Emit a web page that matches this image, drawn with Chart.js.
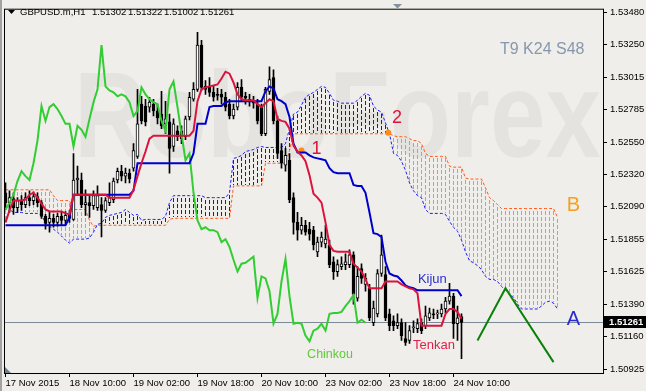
<!DOCTYPE html>
<html>
<head>
<meta charset="utf-8">
<script src="https://cdn.jsdelivr.net/npm/chart.js@4.4.0/dist/chart.umd.min.js"></script>
<style>
html,body{margin:0;padding:0;background:#efeeea;}
#wrap{width:646px;height:391px;position:relative;}
</style>
</head>
<body>
<div id="wrap"><canvas id="c" width="646" height="391"></canvas></div>
<script>
// ---------- DATA ----------
const timeLabels = ["17 Nov 2015","18 Nov 10:00","19 Nov 02:00","19 Nov 18:00","20 Nov 10:00","23 Nov 02:00","23 Nov 18:00","24 Nov 10:00"];
const timeLabelBars = [0,16,32,48,64,80,96,112];
const priceTicks = [1.53480,1.53250,1.53015,1.52785,1.52550,1.52320,1.52090,1.51855,1.51625,1.51390,1.51160,1.50925];
const headerValues = ["1.51302","1.51322","1.51002","1.51261"];

const openP = [
1.52189,1.52118,1.52147,1.52083,1.52133,1.52104,1.52154,1.52133,1.52161,1.52118,
1.52020,1.51977,1.52006,1.51977,1.52020,1.51991,1.52027,1.51998,1.52280,1.52280,
1.52104,1.52118,1.52097,1.52083,1.52104,1.52062,1.52118,1.52140,1.52280,1.52343,
1.52308,1.52329,1.52365,1.52449,1.52823,1.52809,1.52802,1.52823,1.52774,1.52752,
1.52682,1.52696,1.52520,1.52632,1.52632,1.52590,1.52731,1.52858,1.52929,1.53245,
1.52950,1.52943,1.52907,1.52893,1.52893,1.52872,1.52823,1.52738,1.52802,1.52943,
1.52879,1.52858,1.52844,1.52823,1.52802,1.52611,1.52914,1.53013,1.52703,1.52491,
1.52386,1.52421,1.52154,1.51977,1.51921,1.51956,1.51928,1.51921,1.51766,1.51836,
1.51822,1.51815,1.51695,1.51625,1.51660,1.51674,1.51674,1.51745,1.51435,1.51646,
1.51533,1.51505,1.51259,1.51322,1.51611,1.51604,1.51322,1.51273,1.51238,1.51259,
1.51146,1.51132,1.51223,1.51216,1.51259,1.51238,1.51294,1.51322,1.51322,1.51322,
1.51357,1.51413,1.51449,1.51252,1.51302];
const highP = [
1.52259,1.52203,1.52189,1.52154,1.52168,1.52189,1.52203,1.52196,1.52189,1.52133,
1.52034,1.52048,1.52034,1.52041,1.52048,1.52055,1.52062,1.52470,1.52379,1.52329,
1.52210,1.52168,1.52203,1.52238,1.52154,1.52154,1.52259,1.52294,1.52365,1.52386,
1.52365,1.52358,1.52541,1.52929,1.52879,1.52858,1.52872,1.52858,1.52823,1.52914,
1.52844,1.52752,1.52717,1.52668,1.52668,1.52738,1.52907,1.52978,1.53337,1.53280,
1.52992,1.53013,1.52950,1.52936,1.52929,1.52907,1.52858,1.52823,1.52978,1.52999,
1.52907,1.52893,1.52879,1.52858,1.52823,1.52943,1.53090,1.53069,1.52738,1.52541,
1.52506,1.52470,1.52189,1.52048,1.52013,1.51991,1.51977,1.51949,1.51872,1.51907,
1.51956,1.51850,1.51731,1.51709,1.51731,1.51752,1.51780,1.51766,1.51660,1.51681,
1.51611,1.51533,1.51413,1.51639,1.51886,1.51660,1.51357,1.51308,1.51322,1.51287,
1.51259,1.51238,1.51273,1.51287,1.51287,1.51378,1.51364,1.51357,1.51350,1.51392,
1.51441,1.51540,1.51470,1.51378,1.51322];
const lowP = [
1.52069,1.52048,1.52034,1.52048,1.52062,1.52083,1.52097,1.52104,1.52090,1.52006,
1.51928,1.51907,1.51942,1.51949,1.51956,1.51963,1.51977,1.51991,1.52168,1.52083,
1.52027,1.52013,1.52069,1.52062,1.51872,1.52048,1.52097,1.52118,1.52259,1.52273,
1.52259,1.52259,1.52343,1.52435,1.52682,1.52668,1.52766,1.52738,1.52682,1.52647,
1.52611,1.52329,1.52484,1.52562,1.52541,1.52569,1.52710,1.52844,1.52914,1.52921,
1.52893,1.52879,1.52844,1.52851,1.52823,1.52774,1.52717,1.52717,1.52781,1.52844,
1.52823,1.52809,1.52795,1.52682,1.52597,1.52597,1.52893,1.52682,1.52435,1.52365,
1.52343,1.52118,1.51893,1.51850,1.51893,1.51886,1.51850,1.51780,1.51731,1.51801,
1.51794,1.51653,1.51568,1.51590,1.51639,1.51639,1.51653,1.51392,1.51413,1.51540,
1.51484,1.51273,1.51238,1.51301,1.51590,1.51273,1.51202,1.51202,1.51216,1.51132,
1.51097,1.51111,1.51188,1.51188,1.51181,1.51216,1.51273,1.51287,1.51287,1.51301,
1.51329,1.51392,1.51146,1.51132,1.51002];
const closeP = [
1.52118,1.52154,1.52083,1.52133,1.52104,1.52154,1.52133,1.52161,1.52118,1.52020,
1.51970,1.52006,1.51977,1.52020,1.51991,1.52027,1.52006,1.52280,1.52294,1.52104,
1.52118,1.52097,1.52168,1.52168,1.52062,1.52133,1.52154,1.52273,1.52343,1.52308,
1.52329,1.52287,1.52491,1.52682,1.52703,1.52696,1.52837,1.52774,1.52724,1.52668,
1.52717,1.52506,1.52682,1.52590,1.52576,1.52717,1.52872,1.52929,1.53245,1.52943,
1.52929,1.52907,1.52872,1.52886,1.52872,1.52802,1.52738,1.52788,1.52943,1.52872,
1.52865,1.52844,1.52830,1.52703,1.52611,1.52929,1.52999,1.52703,1.52470,1.52400,
1.52456,1.52140,1.51977,1.51921,1.51956,1.51907,1.51893,1.51815,1.51836,1.51872,
1.51857,1.51674,1.51625,1.51674,1.51681,1.51695,1.51745,1.51463,1.51590,1.51576,
1.51576,1.51294,1.51364,1.51611,1.51745,1.51294,1.51238,1.51238,1.51259,1.51167,
1.51118,1.51202,1.51230,1.51252,1.51202,1.51308,1.51329,1.51315,1.51329,1.51357,
1.51413,1.51449,1.51252,1.51294,1.51261];

const tenkan = [
1.51977,1.52062,1.52133,1.52133,1.52133,1.52140,1.52175,1.52189,1.52154,1.52111,
1.52069,1.52055,1.52055,1.52055,1.52055,1.52041,1.52034,1.52175,1.52175,1.52175,
1.52175,1.52175,1.52175,1.52175,1.52175,1.52175,1.52154,1.52154,1.52154,1.52154,
1.52154,1.52154,1.52210,1.52308,1.52400,1.52484,1.52576,1.52597,1.52597,1.52597,
1.52597,1.52597,1.52597,1.52597,1.52597,1.52597,1.52597,1.52632,1.52844,1.52929,
1.52943,1.52950,1.52957,1.52964,1.53006,1.53055,1.53041,1.52978,1.52893,1.52858,
1.52851,1.52851,1.52851,1.52823,1.52802,1.52830,1.52858,1.52844,1.52717,1.52703,
1.52696,1.52647,1.52527,1.52484,1.52456,1.52414,1.52315,1.52182,1.52154,1.52118,
1.51977,1.51815,1.51773,1.51766,1.51766,1.51766,1.51766,1.51681,1.51653,1.51625,
1.51568,1.51505,1.51505,1.51505,1.51505,1.51554,1.51554,1.51554,1.51554,1.51533,
1.51519,1.51505,1.51498,1.51470,1.51238,1.51238,1.51238,1.51238,1.51238,1.51238,
1.51322,1.51357,1.51357,1.51336,1.51287];
const kijun = [
1.51956,1.51956,1.51956,1.51956,1.51956,1.51956,1.51956,1.51956,1.51956,1.51956,
1.51956,1.51956,1.51956,1.51956,1.51956,1.51956,1.52013,1.52175,1.52175,1.52175,
1.52175,1.52175,1.52175,1.52175,1.52175,1.52175,1.52175,1.52175,1.52175,1.52175,
1.52175,1.52175,1.52203,1.52400,1.52400,1.52400,1.52400,1.52400,1.52400,1.52400,
1.52400,1.52400,1.52400,1.52400,1.52400,1.52400,1.52400,1.52470,1.52682,1.52682,
1.52682,1.52802,1.52809,1.52809,1.52809,1.52837,1.52844,1.52844,1.52844,1.52844,
1.52844,1.52844,1.52844,1.52844,1.52844,1.52914,1.52950,1.52936,1.52858,1.52844,
1.52823,1.52731,1.52541,1.52477,1.52477,1.52477,1.52456,1.52442,1.52435,1.52428,
1.52421,1.52365,1.52336,1.52329,1.52329,1.52329,1.52329,1.52245,1.52238,1.52238,
1.52189,1.52048,1.51900,1.51893,1.51872,1.51695,1.51611,1.51597,1.51590,1.51561,
1.51526,1.51512,1.51505,1.51491,1.51491,1.51491,1.51491,1.51491,1.51491,1.51491,
1.51491,1.51491,1.51491,1.51491,1.51449];
const chinkou = [
1.52069,1.52118,1.52175,1.52273,1.52343,1.52308,1.52280,1.52400,1.52562,1.52809,
1.52703,1.52802,1.52823,1.52788,1.52738,1.52682,1.52682,1.52520,1.52668,1.52639,
1.52590,1.52717,1.52837,1.52929,1.53245,1.52950,1.52921,1.52907,1.52879,1.52893,
1.52879,1.52837,1.52738,1.52774,1.52943,1.52893,1.52858,1.52837,1.52823,1.52703,
1.52632,1.52929,1.52985,1.52802,1.52611,1.52421,1.52470,1.52189,1.51991,1.51928,
1.51942,1.51921,1.51921,1.51907,1.51836,1.51857,1.51801,1.51709,1.51625,1.51681,
1.51688,1.51709,1.51731,1.51435,1.51590,1.51576,1.51484,1.51252,1.51322,1.51554,
1.51716,1.51449,1.51252,1.51259,1.51252,1.51167,1.51125,1.51202,1.51216,1.51252,
1.51202,1.51322,1.51329,1.51329,1.51336,1.51378,1.51413,1.51456,1.51259,1.51280,
1.51259];
const senkouA = [
1.51977,1.52069,1.52048,1.52048,1.52048,1.52041,1.52041,1.52041,1.52041,1.52027,
1.51977,1.51949,1.51928,1.51907,1.51879,1.51850,1.51829,1.51857,1.51857,1.51857,
1.51857,1.51865,1.51907,1.51963,1.51970,1.52013,1.52027,1.52034,1.52041,1.52048,
1.52069,1.52048,1.52027,1.52034,1.51991,1.51998,1.51998,1.51998,1.51998,1.51998,
1.52020,1.52118,1.52168,1.52168,1.52168,1.52168,1.52168,1.52168,1.52168,1.52168,
1.52154,1.52154,1.52154,1.52154,1.52154,1.52154,1.52189,1.52435,1.52442,1.52456,
1.52484,1.52491,1.52498,1.52513,1.52520,1.52513,1.52513,1.52513,1.52513,1.52513,
1.52541,1.52647,1.52752,1.52766,1.52816,1.52872,1.52893,1.52907,1.52929,1.52950,
1.52943,1.52900,1.52851,1.52844,1.52830,1.52830,1.52830,1.52830,1.52851,1.52879,
1.52900,1.52886,1.52809,1.52781,1.52766,1.52689,1.52611,1.52470,1.52456,1.52414,
1.52350,1.52259,1.52203,1.52168,1.52154,1.52069,1.52041,1.52041,1.52041,1.52041,
1.52034,1.51984,1.51942,1.51914,1.51850,1.51766,1.51702,1.51688,1.51667,1.51639,
1.51590,1.51568,1.51568,1.51554,1.51519,1.51491,1.51470,1.51441,1.51392,1.51357,
1.51357,1.51357,1.51357,1.51357,1.51378,1.51406,1.51413,1.51399,1.51357];
const senkouB = [
1.52210,1.52210,1.52210,1.52210,1.52210,1.52210,1.52210,1.52210,1.52210,1.52210,
1.52210,1.52210,1.52168,1.52133,1.52133,1.52133,1.52133,1.52069,1.52069,1.52069,
1.52069,1.51991,1.51949,1.51956,1.51956,1.51956,1.51956,1.51956,1.51956,1.51956,
1.51956,1.51956,1.51956,1.51956,1.51956,1.51956,1.51956,1.51956,1.51956,1.51956,
1.51956,1.51998,1.52006,1.52006,1.52006,1.52006,1.52006,1.52006,1.52006,1.52006,
1.52006,1.52006,1.52006,1.52006,1.52006,1.52006,1.52006,1.52238,1.52238,1.52238,
1.52238,1.52238,1.52238,1.52238,1.52238,1.52400,1.52400,1.52400,1.52400,1.52400,
1.52400,1.52491,1.52611,1.52611,1.52611,1.52611,1.52611,1.52611,1.52611,1.52611,
1.52611,1.52611,1.52611,1.52611,1.52611,1.52611,1.52611,1.52611,1.52611,1.52611,
1.52611,1.52611,1.52611,1.52611,1.52611,1.52611,1.52611,1.52597,1.52590,1.52590,
1.52590,1.52576,1.52562,1.52562,1.52541,1.52470,1.52449,1.52449,1.52449,1.52449,
1.52449,1.52379,1.52372,1.52372,1.52372,1.52294,1.52287,1.52287,1.52287,1.52287,
1.52224,1.52154,1.52133,1.52104,1.52076,1.52076,1.52076,1.52076,1.52076,1.52076,
1.52076,1.52076,1.52076,1.52076,1.52076,1.52076,1.52076,1.52076,1.52013];

// forecast zig-zag (bar index, price) and signal markers
const zigzagBars = [118,125,137];
const zigzagPrices = [1.51132,1.51505,1.50977];
const markerBars = [74,95.7];
const markerPrices = [1.52491,1.52618];

// ---------- STYLE ----------
const BG = '#efeeea';
const FONT = "'Liberation Sans', Arial, sans-serif";
const C_TENKAN = '#dc143c', C_KIJUN = '#0000cd', C_CHINKOU = '#32cd32';
const C_SPANA = '#1e1ef0', C_SPANB = '#ff5a1e';
const C_HATCH_A = '#1010f0', C_HATCH_B = '#ff8a55';

const xy = (xs, ys) => ys.map((v, i) => ({x: xs ? xs[i] : i, y: v}));

const ichiPlugin = {
  id: 'ichi',
  beforeDraw(chart) {
    const ctx = chart.ctx;
    ctx.save();
    ctx.fillStyle = BG;
    ctx.fillRect(0, 0, chart.width, chart.height);
    ctx.fillStyle = '#a2a2a2';
    ctx.fillRect(0, 0, 2, chart.height);
    ctx.restore();
  },
  beforeDatasetsDraw(chart) {
    const {ctx, chartArea: a, scales: {x, y}} = chart;
    ctx.save();
    ctx.beginPath();
    ctx.rect(a.left, a.top, a.right - a.left, a.bottom - a.top);
    ctx.clip();
    // watermark
    ctx.save();
    ctx.fillStyle = 'rgba(0,0,0,0.042)';
    ctx.font = 'bold 122px ' + FONT;
    ctx.textBaseline = 'alphabetic';
    const wm = 'RoboForex';
    const w = ctx.measureText(wm).width;
    ctx.translate(74, 157);
    ctx.scale(527 / w, 1);
    ctx.fillText(wm, 0, 0);
    ctx.restore();
    // cloud hatch: crisp vertical dotted strokes, one per bar
    for (let i = 0; i < senkouA.length; i++) {
      const px = Math.floor(x.getPixelForValue(i));
      const ya = Math.round(y.getPixelForValue(senkouA[i]));
      const yb = Math.round(y.getPixelForValue(senkouB[i]));
      ctx.fillStyle = senkouA[i] >= senkouB[i] ? C_HATCH_A : C_HATCH_B;
      const top = Math.min(ya, yb) + 2, bot = Math.max(ya, yb) - 1;
      for (let yy = top; yy < bot; yy += 6) {
        ctx.fillRect(px, yy, 1, Math.min(4, bot - yy));
      }
    }
    // current price line
    const yp = Math.round(y.getPixelForValue(closeP[closeP.length - 1])) + 0.5;
    ctx.strokeStyle = '#7b8a99';
    ctx.lineWidth = 1;
    ctx.beginPath();
    ctx.moveTo(a.left, yp);
    ctx.lineTo(a.right, yp);
    ctx.stroke();
    ctx.restore();
  },
  afterDraw(chart) {
    const {ctx, chartArea: a, scales: {x, y}} = chart;
    ctx.save();
    // frame
    ctx.strokeStyle = '#000';
    ctx.lineWidth = 1;
    ctx.strokeRect(a.left + 0.5, a.top + 0.5, a.right - a.left, a.bottom - a.top);
    // title
    ctx.fillStyle = '#000';
    ctx.beginPath();
    ctx.moveTo(8, 10); ctx.lineTo(15, 10); ctx.lineTo(11.5, 14); ctx.closePath(); ctx.fill();
    ctx.font = '9.5px ' + FONT;
    ctx.textBaseline = 'middle';
    ctx.textAlign = 'left';
    ctx.fillText('GBPUSD.m,H1', 20, 12.5);
    headerValues.forEach((s, k) => ctx.fillText(s, 92 + 36 * k, 12.5));
    // settings label
    ctx.fillStyle = '#8797ad';
    ctx.font = '16px ' + FONT;
    ctx.fillText('T9 K24 S48', 500, 49.5);
    // shift marker triangles
    ctx.fillStyle = '#8391a0';
    ctx.beginPath(); ctx.moveTo(393, 4); ctx.lineTo(402, 4); ctx.lineTo(397.5, 8.5); ctx.closePath(); ctx.fill();
    ctx.fillStyle = '#6f7f90';
    ctx.beginPath(); ctx.moveTo(5, 367); ctx.lineTo(5, 373); ctx.lineTo(11, 373); ctx.closePath(); ctx.fill();
    // annotations anchored to bars/prices
    const txt = (s, bar, price, color, size, align) => {
      ctx.fillStyle = color;
      ctx.font = size + 'px ' + FONT;
      ctx.textAlign = align;
      ctx.textBaseline = 'middle';
      ctx.fillText(s, x.getPixelForValue(bar), y.getPixelForValue(price));
    };
    txt('1', 77.75, 1.52505, '#dc143c', 18, 'center');
    txt('2', 97.9, 1.52727, '#dc143c', 18, 'center');
    txt('B', 142, 1.52097, '#f5a01e', 20, 'center');
    txt('A', 142, 1.51280, '#2a2ad2', 20, 'center');
    txt('Kijun', 103.1, 1.51572, '#2e2ecc', 13, 'left');
    txt('Tenkan', 101.9, 1.51096, '#e0204a', 13, 'left');
    txt('Chinkou', 75.4, 1.51033, '#5ccc3a', 12.5, 'left');
    // current price tag
    const last = closeP[closeP.length - 1];
    const yp = Math.round(y.getPixelForValue(last));
    ctx.fillStyle = '#000';
    ctx.fillRect(a.right + 1, yp - 6, chart.width - a.right - 1, 12);
    ctx.fillStyle = '#fff';
    ctx.font = 'bold 9.5px ' + FONT;
    ctx.textAlign = 'left';
    ctx.fillText(last.toFixed(5), a.right + 6, yp + 0.5);
    ctx.restore();
  }
};

const tickFont = {family: FONT, size: 9.5};

new Chart(document.getElementById('c'), {
  type: 'bar',
  data: {
    datasets: [
      {type: 'line', label: 'Tenkan', data: xy(null, tenkan), borderColor: C_TENKAN, borderWidth: 2, pointRadius: 0, tension: 0},
      {type: 'line', label: 'Kijun', data: xy(null, kijun), borderColor: C_KIJUN, borderWidth: 2, pointRadius: 0, tension: 0},
      {type: 'line', label: 'Chinkou', data: xy(null, chinkou), borderColor: C_CHINKOU, borderWidth: 2, pointRadius: 0, tension: 0},
      {type: 'line', label: 'Forecast', data: xy(zigzagBars, zigzagPrices), borderColor: '#0a820a', borderWidth: 2, pointRadius: 0, tension: 0},
      {type: 'line', label: 'Signals', data: xy(markerBars, markerPrices), showLine: false, pointRadius: 3, pointStyle: 'circle', pointBackgroundColor: '#ff8c1a', pointBorderWidth: 0},
      {type: 'bar', label: 'Bodies', data: openP.map((o, i) => ({x: i, y: [o, closeP[i]]})),
        backgroundColor: openP.map((o, i) => closeP[i] >= o ? '#ffffff' : '#000000'),
        borderColor: '#000', borderWidth: 1, borderSkipped: false, barThickness: 3, grouped: false, minBarLength: 1},
      {type: 'bar', label: 'Wicks', data: lowP.map((l, i) => ({x: i, y: [l, highP[i]]})),
        backgroundColor: '#000', borderWidth: 0, barThickness: 1, grouped: false},
      {type: 'line', label: 'Senkou A', data: xy(null, senkouA), borderColor: C_SPANA, borderWidth: 1, borderDash: [3, 2], pointRadius: 0, tension: 0},
      {type: 'line', label: 'Senkou B', data: xy(null, senkouB), borderColor: C_SPANB, borderWidth: 1, borderDash: [3, 2], pointRadius: 0, tension: 0}
    ]
  },
  options: {
    responsive: false,
    animation: false,
    devicePixelRatio: 1,
    layout: {padding: {left: 4, top: 3, right: 0, bottom: 0}},
    plugins: {legend: {display: false}, tooltip: {enabled: false}},
    scales: {
      x: {
        type: 'linear', min: -0.375, max: 149.375, offset: false,
        grid: {display: true, drawOnChartArea: false, drawTicks: true, tickLength: 4, color: '#000', offset: false},
        border: {display: false},
        afterBuildTicks: s => { s.ticks = timeLabelBars.map(v => ({value: v})); },
        afterFit: s => { s.height = 18; },
        ticks: {autoSkip: false, maxRotation: 0, minRotation: 0, align: 'start', padding: 1, color: '#000', font: tickFont,
          callback: (v, i) => timeLabels[i]}
      },
      y: {
        type: 'linear', position: 'right', min: 1.50899, max: 1.53506,
        grid: {display: true, drawOnChartArea: false, drawTicks: true, tickLength: 4, color: '#000'},
        border: {display: false},
        afterBuildTicks: s => { s.ticks = priceTicks.map(v => ({value: v})); },
        afterFit: s => { s.width = 43; },
        ticks: {autoSkip: false, padding: 3, color: '#000', font: tickFont, callback: v => v.toFixed(5)}
      }
    }
  },
  plugins: [ichiPlugin]
});
</script>
</body>
</html>
